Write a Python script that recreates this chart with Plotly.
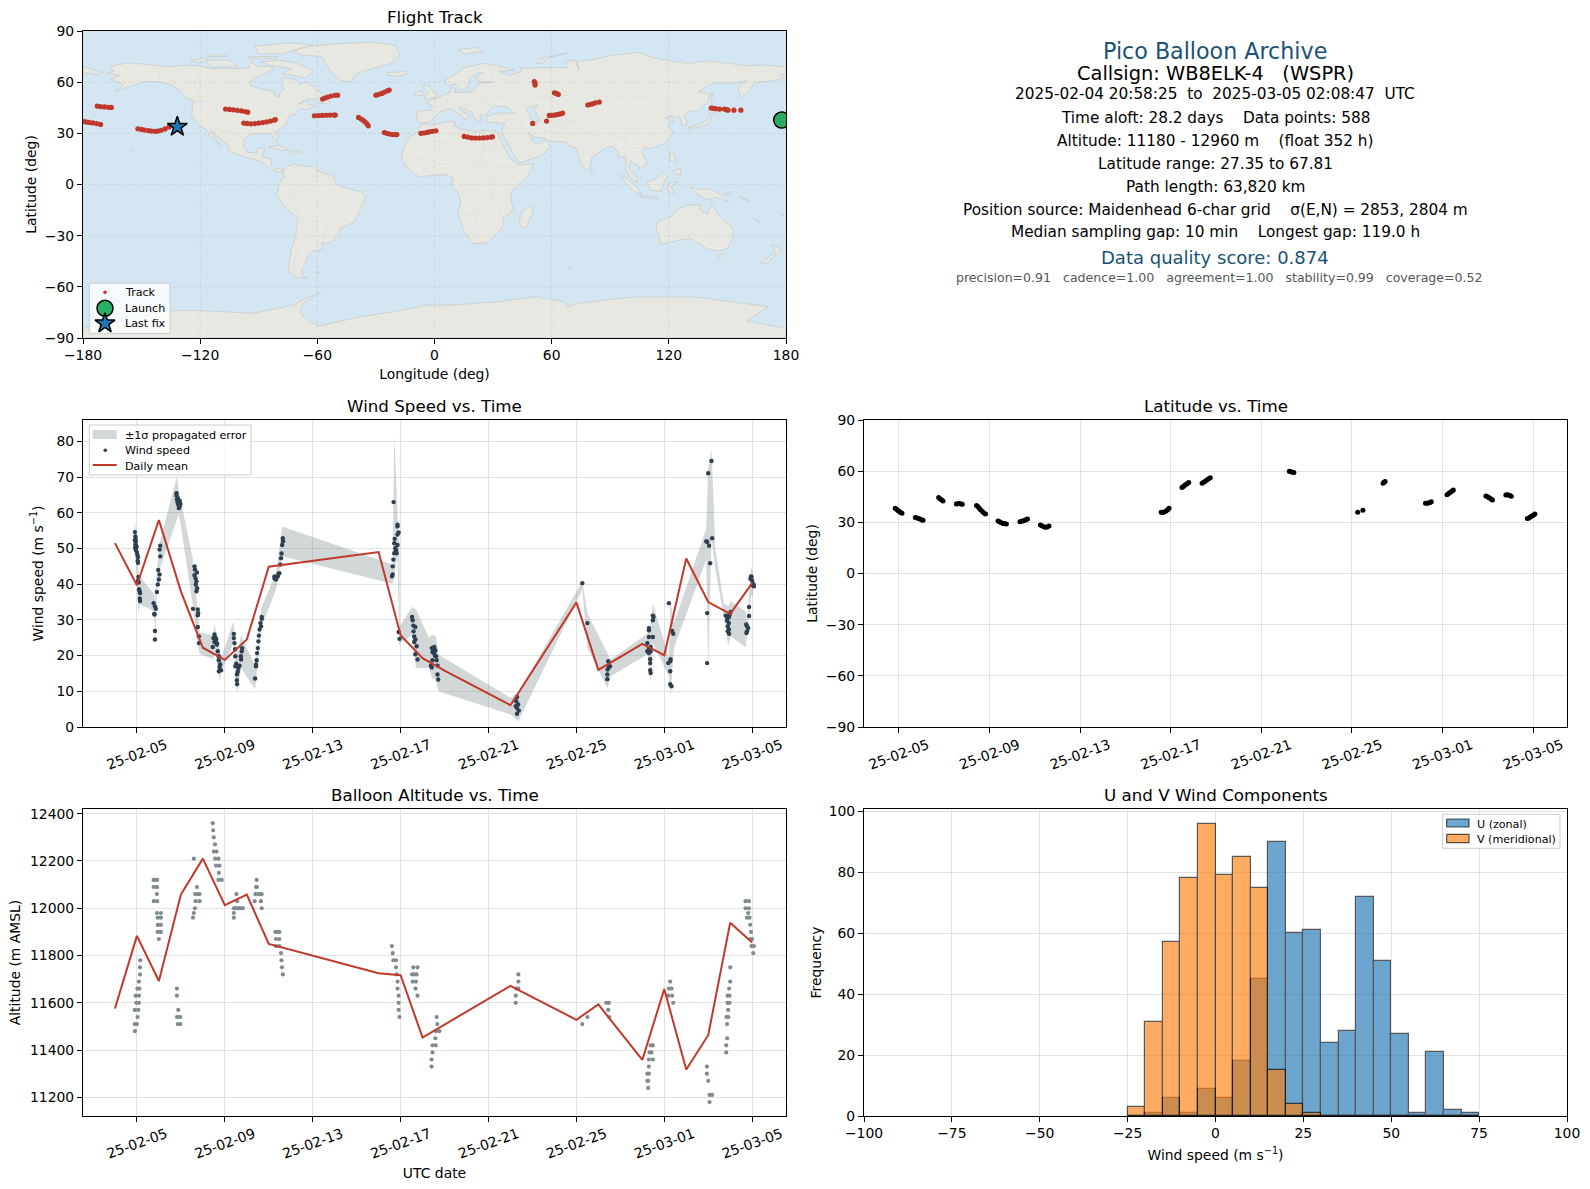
"""
Pico balloon flight summary: track map, wind, latitude, altitude, U/V histogram
"""
import pandas as pd
import plotly.graph_objects as go

WIDTH, HEIGHT = 1590, 1189
FONT = "DejaVu Sans"
RED = "#c0392b"
NAVY = "#2c3e50"
GREY = "#7f8c8d"
TITLE_BLUE = "#1a5276"
LAND = "#e8e8e3"
LAND_EDGE = "#c4c8c8"
BORDER = "#dcdcd8"
SEA = "#d4e6f1"
GRID = "#e2e2e2"

# --- track (lon, lat) ---
track_lon = [-180, -178.5, -177, -175, -173, -171, -172.7, -171, -169, -167, -165.5,
             -151.9, -150, -148.5, -146.5, -145, -143, -141.6, -140, -138, -136,
             -107, -105, -103, -101, -99, -97, -95.6,
             -97.7, -96, -94, -92, -90, -88, -86, -84, -82, -81.5,
             -57.3, -56, -54.7, -53, -51, -49.6,
             -61.5, -59.5, -57.5, -55.5, -53.5, -51.5, -50.8,
             -38.9, -37.5, -36.5, -35.5, -34.5, -33.9,
             -30, -28.5, -27, -25.5, -24, -23.2,
             -25.7, -24.5, -23, -21.5, -20, -19.3,
             -7, -5.5, -4, -2.7, -1, 0.7,
             15.2, 17, 19, 21, 23, 25, 27, 29, 29.7,
             51.1, 51.5, 51.5, 61.4, 62.4, 63.4,
             50.3, 57.4,
             58.8, 60, 61.4, 62.7, 63.9, 65, 65.6,
             78.5, 79.8, 81, 82.4, 84.4,
             141.7, 143, 144.3, 146, 148.5, 149.5, 150.3, 153.3, 156.9]
track_lat = [37, 36.7, 36.4, 36.1, 35.7, 35.2, 46, 45.7, 45.5, 45.3, 45.2,
             32.7, 32.3, 31.9, 31.6, 31.3, 31.2, 31.3, 31.8, 32.6, 33.7,
             44.2, 44, 43.8, 43.5, 43.2, 42.8, 42.4,
             36, 35.8, 35.6, 35.7, 36, 36.3, 36.7, 37.2, 37.8, 38.1,
             50.1, 50.7, 51.3, 51.9, 52.3, 52.4,
             40.3, 40.4, 40.5, 40.6, 40.7, 40.7, 40.7,
             39.3, 38.4, 37.6, 36.6, 35.4, 34.4,
             52.4, 52.9, 53.4, 54.2, 55, 55.4,
             30.5, 30, 29.6, 29.3, 29.3, 29.3,
             30, 30.2, 30.5, 30.9, 31.2, 31.5,
             28.2, 27.8, 27.3, 27.2, 27.2, 27.3, 27.5, 27.8, 28,
             60.4, 59.5, 58.3, 53.8, 53.4, 52.8,
             35.8, 37.2,
             40.5, 40.6, 40.7, 41, 41.3, 41.6, 41.9,
             46.6, 47, 47.3, 47.9, 48.3,
             44.8, 44.6, 44.4, 44.2, 44.2, 43.9, 43.6, 43.6, 43.6]
launch_lon, launch_lat = [177.8], [37.8]
last_lon, last_lat = [-131.7], [33.9]
map_lon_ticks = [-180, -120, -60, 0, 60, 120, 180]
map_lat_ticks = [-90, -60, -30, 0, 30, 60, 90]

# --- base map outlines (lon, lat) ---
north_america = [(-168, 65.5), (-164, 66.5), (-166, 68.5), (-162, 70.3), (-156, 71.3), (-150, 70.5), (-141, 69.7),
                 (-135, 69), (-128, 70), (-120, 69.5), (-115, 68), (-108, 68), (-100, 68), (-95, 68.5), (-94, 72),
                 (-90, 69), (-85, 69.5), (-82, 68), (-87, 65), (-93, 62), (-94, 61), (-94.5, 58.8), (-92, 57),
                 (-85, 55.3), (-82, 55), (-82, 52.5), (-79.5, 51.3), (-79, 54.5), (-77, 56), (-78, 58.5), (-78, 62.5),
                 (-73, 62), (-70, 61), (-69, 58.8), (-65, 60), (-62, 57.5), (-60, 55), (-56, 52.5), (-60, 50), (-66, 50),
                 (-70, 47), (-65, 49), (-65, 47), (-61, 46), (-65, 44), (-68, 44.5), (-70, 43.5), (-71, 41.5), (-74, 40.5),
                 (-75.5, 38), (-76, 35), (-79, 33), (-81, 31), (-80.2, 26), (-81, 25), (-82.7, 28), (-84, 30), (-89, 30),
                 (-94, 29.5), (-97.3, 27), (-97.8, 22.5), (-95.5, 18.8), (-91, 18.6), (-90.5, 21), (-87, 21.5), (-88, 16),
                 (-83.5, 15), (-83.7, 11), (-81.5, 9), (-79, 9.5), (-77.3, 8.5), (-78, 7.5), (-80.5, 7.3), (-83, 8.3),
                 (-86, 11), (-88, 13), (-92, 14.5), (-96, 15.8), (-102, 18), (-105.5, 20), (-105.5, 23), (-109, 26),
                 (-112.5, 30), (-114.8, 31.7), (-112, 27), (-109.8, 23), (-112, 25), (-115, 28.5), (-117, 32.5),
                 (-120.5, 34.5), (-122.5, 37.5), (-124.3, 40.5), (-124, 46), (-123, 49), (-127, 51), (-130, 54.5),
                 (-134, 58), (-140, 60), (-148, 60.5), (-152, 59), (-158, 56.5), (-164, 54.5), (-159, 58.5), (-162, 60),
                 (-166, 62), (-161, 64), (-168, 65.5)]
greenland = [(-73, 78), (-65, 81), (-50, 82.5), (-32, 83.5), (-20, 81.5), (-18, 76), (-22, 71), (-32, 68), (-40, 65),
             (-43, 60), (-48, 61), (-53, 66), (-55, 70), (-58, 75), (-68, 76), (-73, 78)]
baffin = [(-80, 73), (-72, 71.5), (-68, 70), (-62, 66.5), (-66, 62.5), (-72, 64), (-78, 65), (-73, 68), (-85, 70), (-89, 72), (-80, 73)]
victoria_isl = [(-117, 73), (-105, 73), (-101, 69), (-115, 69), (-117, 73)]
banks_isl = [(-125, 72), (-118, 74.5), (-116, 73), (-120, 71.5), (-125, 72)]
ellesmere = [(-90, 76.5), (-78, 76.5), (-62, 82), (-75, 83), (-92, 81), (-90, 76.5)]
devon_isl = [(-96, 75), (-80, 75), (-82, 74), (-94, 74), (-96, 75)]
melville_isl = [(-116, 76), (-106, 76), (-106, 75), (-116, 75), (-116, 76)]
newfoundland = [(-59, 47.7), (-56, 51.5), (-53, 47), (-59, 47.7)]
cuba = [(-85, 22), (-80, 23), (-74.5, 20.3), (-78, 20), (-85, 22)]
hispaniola = [(-74, 19.8), (-69, 19.5), (-68.5, 18.5), (-74, 18.2), (-74, 19.8)]
hawaii = [(-156, 20), (-155, 19.5), (-155.5, 19), (-156, 20)]
falkland = [(-61, -51.5), (-58, -51.3), (-59, -52.3), (-61, -51.5)]
chukotka_west = [(-180, 69), (-175, 67.5), (-170, 66), (-173, 64.5), (-178, 65.5), (-180, 65), (-180, 69)]
south_america = [(-77.5, 8), (-75, 11), (-72, 12), (-68, 11), (-62, 10.5), (-60, 8), (-52, 5), (-50, 0), (-44, -2.5),
                 (-38, -4), (-35, -7), (-37, -12), (-39, -17), (-41, -22), (-48, -25.5), (-48.5, -28), (-53, -34),
                 (-58, -34.5), (-57, -38), (-62, -39), (-65, -42), (-66, -46), (-68, -50), (-68, -53), (-65, -55),
                 (-72, -54), (-75, -50), (-74, -43), (-73, -37), (-71, -30), (-70, -20), (-76, -14), (-81, -6),
                 (-80, -2.5), (-80, 1), (-77, 4), (-77.5, 8)]
africa = [(-6, 35.8), (-2, 35), (10, 37.2), (11, 33.5), (15, 32.3), (20, 31), (25, 31.7), (32, 31.2), (33, 28), (36, 21),
          (38.5, 15.5), (43.3, 11.5), (51, 12), (47, 4), (40, -3), (39, -8), (40.5, -15), (35, -20), (35.5, -24), (32.5, -28),
          (27, -34), (20, -34.8), (18, -32), (15, -27), (12, -17), (13.5, -10), (12, -5), (9, -1), (9.5, 4), (5, 6), (-4, 5),
          (-8, 4.5), (-13, 9), (-17, 14.5), (-16, 21), (-13, 27.5), (-9.5, 30), (-6, 35.8)]
eurasia = [(-9, 37), (-9, 43), (-2, 43.5), (-1, 46), (-4.5, 48.5), (2, 51), (8, 54), (8.5, 57), (11, 56), (10, 54), (14, 54),
           (20, 54.5), (21, 57), (24, 59.5), (30, 60), (23, 60), (21, 63), (25, 65.5), (22, 65.5), (17.5, 62), (18, 59.5),
           (16, 56), (13, 55.5), (11, 59), (7, 58), (5, 61), (10, 64), (15, 68.5), (25, 71), (31, 70), (41, 67), (33, 66.5),
           (38, 64), (44, 66), (44, 68), (54, 68.5), (68, 68.5), (67, 72), (72, 73), (74, 67), (73, 72), (80, 73), (90, 75.5),
           (105, 77.5), (113, 74), (130, 71), (140, 72.5), (160, 69.7), (170, 70), (180, 69), (180, 65), (177, 64.5),
           (179, 62.5), (172, 60.5), (164, 60), (162, 56), (157, 51), (155.5, 56), (160, 61), (155, 59.5), (143, 59.5),
           (135, 54.5), (141, 53), (140, 48), (135, 43.5), (130, 42.5), (127.5, 39.7), (129.5, 37), (129, 35), (126.5, 34.5),
           (126.5, 37.5), (125, 39.7), (121.5, 39), (122, 40.5), (118, 39), (122.5, 37), (119, 35), (122, 31), (121, 28),
           (117, 23.5), (110, 21), (108, 21.5), (106, 19), (109, 13), (105, 9), (105, 10.5), (100.5, 13.5), (99.5, 10),
           (103.5, 4), (104, 1.3), (101, 3), (98, 8), (98, 16), (94.5, 16), (94, 19), (91, 22.5), (87, 21), (80.5, 15.5),
           (80, 11), (77.5, 8), (74, 15), (72.8, 21), (69, 22.5), (67, 25), (62, 25), (57, 26), (56.5, 27), (51, 28), (48, 30),
           (50, 26.5), (51, 24.5), (54, 24), (56.2, 26), (59.5, 22.5), (55, 17), (45, 13), (43, 13), (39, 21), (35.5, 28),
           (34.5, 31), (36, 36), (30, 36.3), (27, 37), (26.5, 39.5), (29, 41), (35, 42), (41.5, 41.5), (38, 44.5), (37, 46),
           (33, 45.5), (31, 46.5), (28, 43), (26, 40.7), (23, 40.5), (24, 38), (22, 36.5), (19.5, 41), (19, 42.5), (13.5, 45.5),
           (12.3, 44.5), (16, 41.5), (18.5, 40), (16, 38), (12.5, 41.5), (8.5, 44.3), (3, 43), (0, 39.5), (-2, 36.7), (-5.5, 36),
           (-9, 37)]
britain = [(-5, 50), (1, 51.2), (1.5, 52.7), (-2, 56), (-3, 58.5), (-6, 57.5), (-3, 54), (-5, 52), (-5, 50)]
ireland = [(-10, 52), (-6, 52.2), (-6, 55), (-10, 54), (-10, 52)]
iceland = [(-24, 65.5), (-15, 66.3), (-14, 64.7), (-19, 63.4), (-24, 64), (-24, 65.5)]
svalbard = [(12, 79), (22, 80.5), (25, 78), (16, 76.5), (12, 79)]
novaya_zemlya = [(52, 71), (55, 74), (68, 77), (60, 75), (55, 71), (52, 71)]
madagascar = [(49.5, -12), (50.5, -16), (47, -25), (44, -25), (43.5, -21), (44.5, -16), (49.5, -12)]
sri_lanka = [(80, 9.5), (82, 7), (80.5, 6), (80, 9.5)]
honshu = [(131, 34), (136, 35.5), (140, 38), (141, 41), (142, 39), (140.5, 35.5), (136, 33.8), (132, 33), (131, 34)]
hokkaido = [(140, 42), (141.5, 45.5), (145, 43.5), (143, 42), (140, 42)]
kyushu = [(130, 33.5), (132, 33), (131, 31), (130, 31.5), (130, 33.5)]
sakhalin = [(142, 54), (143.5, 49), (142, 46), (142, 50), (142, 54)]
luzon = [(120.5, 18.5), (122, 18.5), (124, 13), (120.5, 14), (120.5, 18.5)]
mindanao = [(122, 8), (126, 9.5), (126, 6), (124, 6), (122, 8)]
borneo = [(109, 1.5), (113, 3), (117, 7), (119, 5), (117.5, 1), (116, -4), (110, -3), (109, 1.5)]
sumatra = [(95, 5.5), (98, 4), (104, -2), (106, -6), (102, -4), (98, 1), (95, 5.5)]
java = [(105, -6.5), (114, -7.5), (114, -8.5), (106, -7.5), (105, -6.5)]
sulawesi = [(120, 1), (125, 1.5), (121, -1), (123, -5), (120, -5.5), (119, -2), (120, 1)]
new_guinea = [(131, -1), (135, -3), (141, -2.5), (146, -5.5), (151, -10.5), (144, -7.5), (141, -9), (138, -8), (133, -4), (131, -1)]
new_britain = [(148, -5.5), (152, -4.2), (151, -6), (148, -5.5)]
solomons = [(156, -7), (160, -8.5), (162, -10.5), (158, -8.5), (156, -7)]
new_caledonia = [(164, -20), (167, -22), (166, -22.3), (164, -20)]
fiji = [(177.3, -17.5), (178.7, -17.7), (178, -18.3), (177.3, -17.5)]
australia = [(114, -22), (122, -18), (125, -14), (130, -12), (136, -12), (136, -15), (140, -17.5), (142, -11), (146, -19),
             (153, -26), (153, -31), (150, -37.5), (146, -39), (140, -38), (136, -35), (131, -31.5), (124, -33), (116, -35),
             (115, -31), (113.5, -26), (114, -22)]
tasmania = [(145, -41), (148, -41), (147.5, -43.5), (146, -43.5), (145, -41)]
nz_north = [(173, -35), (178, -38), (175, -41.5), (174, -39), (173, -35)]
nz_south = [(172.5, -41), (174, -42), (170, -46.5), (167, -46), (172.5, -41)]
kerguelen = [(68.7, -49), (70.5, -49.2), (69.5, -49.8), (68.7, -49)]
antarctica = [(-180, -84.4), (-160, -80), (-150, -77), (-135.7, -74), (-119.5, -74), (-105, -74.6), (-93, -75.5), (-84.5, -73.6),
              (-72.6, -70.7), (-64, -65.8), (-58, -63.4), (-62, -66), (-67, -69.5), (-69, -75), (-65, -80), (-59, -83), (-50, -80.5),
              (-37, -77.5), (-16, -73.6), (-3.4, -70.7), (9, -70.7), (33, -68.7), (52, -65.8), (66.5, -68.7), (68, -72), (72.5, -69.7),
              (101.5, -66), (134, -66), (171, -71.6), (160, -80), (180, -84.4), (180, -90), (-180, -90), (-180, -84.4)]
land_shapes = [north_america, greenland, baffin, victoria_isl, banks_isl, ellesmere, devon_isl, melville_isl, newfoundland,
               cuba, hispaniola, hawaii, falkland, chukotka_west, south_america, africa, eurasia, britain, ireland, iceland,
               svalbard, novaya_zemlya, madagascar, sri_lanka, honshu, hokkaido, kyushu, sakhalin, luzon, mindanao, borneo,
               sumatra, java, sulawesi, new_guinea, new_britain, solomons, new_caledonia, fiji, australia, tasmania, nz_north,
               nz_south, kerguelen, antarctica]
caspian = [(47, 45), (53, 46.5), (51, 44), (53, 40), (54, 37), (50, 37), (49, 40), (47.5, 43), (47, 45)]
borders = [[(-123, 49), (-95, 49), (-88, 48), (-83, 46), (-82.5, 42), (-76, 44), (-71, 45), (-67, 47)],
           [(-141, 69.7), (-141, 60)],
           [(-117, 32.5), (-106, 31.7), (-101, 29.5), (-97.3, 26)],
           [(-70, -18), (-69, -11), (-74, -7), (-70, -4), (-70, 1), (-67, 2), (-60, 5), (-52, 3)],
           [(-58, -20), (-62, -22), (-67, -22), (-70, -18)],
           [(-58, -20), (-54, -25), (-57, -30), (-53, -34)],
           [(-70, -20), (-71, -30), (-71, -40), (-72, -50)],
           [(-8, 27), (12, 23), (25, 20), (25, 31.7)],
           [(-16, 16), (-5, 15), (4, 12), (14, 13), (24, 12), (34, 10), (43, 11)],
           [(10, 37), (8, 30), (12, 23)],
           [(25, 20), (24, 10), (30, 3), (30, -8), (22, -11), (22, -18), (12, -17)],
           [(30, 3), (41, 4)],
           [(22, -18), (20, -28), (17, -29)],
           [(30, -8), (33, -14), (35, -20)],
           [(37, 21), (25, 22)],
           [(28, 70), (30, 62), (28, 56), (23, 52), (30, 45)],
           [(30, 52), (40, 50), (48, 46)],
           [(51, 51), (60, 51), (77, 54), (87, 49), (98, 52), (117, 50), (127, 50), (135, 48)],
           [(87, 49), (80, 42), (74, 38), (61, 36), (54, 37)],
           [(74, 38), (61, 30), (62, 25)],
           [(74, 34), (78, 30), (88, 27), (97, 28), (98, 24), (101, 21), (106, 22), (108, 21.5)],
           [(45, 39), (44, 33), (48, 30)],
           [(36, 33), (42, 37), (45, 39)],
           [(8, 54), (6, 50), (6, 44)],
           [(6, 44), (13.5, 46), (23, 48), (30, 45)]]

# --- wind speed, days since 2025-02-05 ---
wind_days = [-0.09, -0.07, -0.06, -0.09, -0.05, -0.07, -0.04, -0.08, -0.05, -0.02, 0.0, 0.02, 0.05, 0.03, 0.05,
             0.07, 0.05, 0.08, 0.10, 0.12, 0.14, 0.13, 0.14,
             0.76, 0.82, 0.86, 0.79, 0.80, 0.82, 0.82, 0.91, 0.95, 1.0, 1.03, 0.97, 1.06, 1.03, 1.06,
             1.80, 1.80, 1.82, 1.85, 1.88, 1.94, 1.91, 1.98, 1.95, 1.87, 1.92,
             2.62, 2.64, 2.73, 2.62, 2.67, 2.71, 2.68, 2.74, 2.71, 2.55, 2.77, 2.79, 2.77, 2.77, 2.82, 2.82,
             3.53, 3.48, 3.61, 3.53, 3.64, 3.45, 3.68, 3.73, 3.73, 3.79, 3.76, 3.83, 3.73, 3.58, 3.65,
             4.41, 4.41, 4.44, 4.47, 4.48, 4.52, 4.48, 4.67, 4.59, 4.55, 4.55, 4.56, 4.74, 4.73, 4.77, 4.79, 4.62,
             5.38, 5.42, 5.45, 5.42, 5.47, 5.5, 5.53, 5.55, 5.58, 5.65, 5.62, 5.68, 5.68,
             6.26, 6.33, 6.41, 6.48, 6.26, 6.53, 6.56, 6.58, 6.61, 6.65, 6.64, 6.36, 6.44,
             11.68, 11.64, 11.61, 11.64, 11.67, 11.71, 11.79, 11.76, 11.86, 11.71, 11.73, 11.86, 11.91, 11.86, 11.86, 11.79, 11.82,
             11.91, 11.95, 12.52, 12.55, 12.58, 12.67, 12.59, 12.62, 12.67, 12.62, 12.73, 12.67, 12.77,
             13.42, 13.53, 13.58, 13.45, 13.61, 13.45, 13.64, 13.68, 13.42, 13.68, 13.71, 13.38, 13.53, 13.5, 13.56,
             17.3, 17.26, 17.35, 17.24, 17.3, 17.38, 17.3,
             20.27, 20.5,
             21.45, 21.48, 21.42, 21.41, 21.41, 21.53,
             23.48, 23.51, 23.48, 23.3, 23.3, 23.48, 23.3, 23.23, 23.38, 23.3, 23.23, 23.38, 23.3, 23.36, 23.36, 23.36, 23.38,
             24.21, 24.36, 24.41, 24.29, 24.27, 24.18, 24.27, 24.27, 24.33,
             26.15, 26.0, 25.91, 25.95, 26.04, 26.18, 26.09, 25.95, 25.95,
             27.02, 26.79, 26.86, 26.94, 26.86, 26.94, 26.89, 26.94, 26.89, 26.95, 26.88, 26.97,
             27.73, 27.77, 27.82, 27.77, 27.74, 27.86, 27.86, 27.95, 27.92, 28.0, 28.03, 28.08, 27.97, 28.06]
wind_speed = [54.6, 53.4, 52.7, 52.3, 51.9, 51.2, 50.8, 50.2, 49.6, 50.5, 49.0, 48.3, 47.6, 46.5, 46.0,
              42.0, 41.0, 40.5, 38.6, 38.0, 37.5, 36.0, 35.3,
              34.7, 33.8, 33.1, 31.7, 31.5, 26.9, 24.5, 37.8, 39.9, 41.3, 42.7, 44.0, 47.8, 49.7, 50.8,
              65.5, 64.8, 63.7, 62.9, 62.3, 61.8, 61.3, 62.5, 63.3, 64.0, 62.0,
              45.0, 44.1, 43.3, 42.5, 41.7, 40.8, 39.9, 38.9, 38.0, 33.1, 32.9, 31.9, 31.3, 28.0, 25.4, 23.5,
              25.9, 24.9, 24.5, 23.8, 23.1, 22.4, 21.2, 19.8, 18.7, 17.5, 16.8, 15.9, 15.6, 25.0, 23.4,
              26.1, 24.9, 23.5, 21.8, 19.8, 17.7, 17.0, 17.2, 15.5, 14.7, 13.1, 12.0, 18.9, 19.8, 21.2, 22.1, 16.5,
              13.6, 17.0, 18.7, 17.5, 20.7, 22.1, 24.0, 25.6, 27.3, 28.2, 29.1, 30.3, 30.8,
              41.6, 41.3, 42.2, 43.1, 42.2, 45.5, 47.3, 48.6, 51.0, 52.0, 52.9, 41.9, 42.9,
              63.0, 42.7, 42.2, 45.0, 46.9, 48.7, 48.7, 50.1, 51.0, 51.5, 52.7, 53.9, 54.5, 56.2, 56.7, 49.5, 48.7,
              26.6, 24.7, 30.8, 29.9, 28.4, 28.0, 26.8, 25.4, 24.5, 23.8, 22.6, 20.4, 18.9,
              22.1, 22.4, 21.5, 21.0, 19.8, 18.7, 18.7, 17.2, 16.7, 14.7, 13.3, 17.2, 20.7, 22.0, 20.0,
              8.4, 7.2, 6.3, 5.8, 5.3, 4.6, 3.7,
              40.3, 29.1,
              18.4, 16.8, 16.1, 14.7, 13.4, 17.0,
              31.2, 30.8, 29.9, 27.7, 27.1, 25.2, 25.2, 23.5, 22.4, 22.1, 21.2, 21.2, 20.7, 19.0, 17.9, 15.9, 15.1,
              34.7, 26.9, 26.1, 19.0, 18.4, 17.9, 15.6, 12.0, 11.4,
              74.5, 71.1, 52.0, 51.9, 50.8, 52.9, 45.9, 31.9, 17.9,
              32.2, 31.2, 31.0, 30.8, 29.8, 29.1, 28.2, 27.3, 26.8, 26.1, 30.5, 31.4,
              28.7, 28.2, 27.7, 26.8, 26.3, 33.6, 31.1, 42.2, 41.5, 41.0, 39.7, 39.4, 42.0, 40.0]
wind_ticks = [0, 10, 20, 30, 40, 50, 60, 70, 80]

# +/- 1 sigma band envelope
band_days = [-0.11, -0.03, 0.06, 0.12, 0.80, 0.83, 0.91, 1.03, 1.82, 1.91, 2.55, 2.77, 2.85, 3.48, 3.53, 3.76, 3.83, 4.39,
             4.55, 4.74, 5.38, 5.5, 5.65, 6.33, 6.61, 11.64, 11.71, 11.86, 11.94, 11.97, 12.52, 12.7, 13.3, 13.42, 13.61,
             13.71, 17.02, 17.36, 20.27, 20.5, 21.41, 21.56, 23.23, 23.38, 23.48, 24.21, 24.29, 24.44, 25.91, 26.0, 26.15,
             26.33, 26.71, 26.91, 27.02, 27.7, 27.77, 27.95, 28.05]
band_low = [47.8, 46.4, 31.7, 34.3, 32.4, 22.6, 37.5, 44.1, 58.1, 59.9, 33.8, 23.1, 20.5, 18.9, 21.7, 12.8, 15.1, 23.5,
            9.5, 16.5, 10.6, 17.0, 27.7, 38.5, 47.8, 40.1, 43.1, 47.8, 22.1, 23.5, 25.6, 16.5, 16.5, 13.7, 13.3,
            10.0, 3.5, 1.6, 38.5, 22.1, 10.9, 14.2, 20.3, 12.5, 23.5, 14.2, 8.9, 22.1, 46.9, 15.6, 52.5,
            44.0, 31.0, 22.8, 25.4, 22.3, 25.9, 36.6, 37.0]
band_high = [58.1, 54.3, 44.1, 42.2, 37.1, 35.2, 43.1, 51.5, 70.2, 66.0, 46.9, 31.0, 26.5, 25.6, 28.9, 21.7, 19.3, 29.5,
             20.3, 25.7, 17.0, 23.5, 33.3, 43.1, 56.2, 45.5, 82.2, 59.0, 48.3, 28.2, 33.6, 32.9, 24.9, 25.9, 25.4,
             20.3, 8.1, 9.5, 40.8, 31.9, 21.0, 18.9, 26.1, 28.2, 34.7, 19.3, 35.2, 29.1, 55.5, 73.0, 77.7,
             49.7, 34.7, 33.8, 35.2, 32.4, 29.1, 45.0, 43.0]

# daily means, same day offsets for both panels
mean_days = [-1, 0, 1, 2, 3, 4, 5, 6, 11, 12, 13, 14, 17, 20, 21, 23, 24, 25, 26, 27, 28]
wind_mean = [51.5, 39.7, 58.0, 38.0, 22.2, 18.8, 24.5, 44.9, 49.0, 25.7, 19.3, 15.8, 6.1, 34.9, 16.0, 23.3, 20.1, 47.2, 35.0, 31.7, 40.3]
alt_mean = [11576, 11883, 11692, 12058, 12210, 12013, 12058, 11849, 11725, 11717, 11453, 11507, 11672, 11528, 11593, 11358, 11658, 11318, 11463, 11939, 11855]

# --- latitude ---
lat_days = [-0.16, -0.10, -0.04, 0.02, 0.08, 0.14, 0.73, 0.80, 0.88, 0.95, 1.02, 1.07, 1.76, 1.82, 1.88, 1.95,
            2.54, 2.60, 2.68, 2.74, 2.80, 3.43, 3.50, 3.56, 3.62, 3.70, 3.76, 3.83, 4.38, 4.45, 4.52, 4.60, 4.68, 4.75,
            5.35, 5.42, 5.50, 5.57, 5.63, 5.68, 6.25, 6.32, 6.40, 6.47, 6.55, 6.63,
            11.58, 11.65, 11.72, 11.80, 11.87, 11.93, 12.50, 12.56, 12.62, 12.68, 12.74, 12.80,
            13.39, 13.46, 13.53, 13.60, 13.68, 13.75, 17.24, 17.31, 17.38, 17.44, 20.26, 20.49,
            21.38, 21.42, 21.47, 23.25, 23.32, 23.38, 23.45, 23.51, 24.20, 24.26, 24.32, 24.38, 24.44, 24.48,
            25.92, 25.98, 26.04, 26.10, 26.16, 26.21, 26.80, 26.86, 26.92, 26.98, 27.04,
            27.75, 27.82, 27.88, 27.95, 28.02, 28.08]
lat_vals = [38.2, 37.6, 37.0, 36.3, 35.8, 35.3, 32.9, 32.6, 32.2, 31.8, 31.4, 31.2, 44.5, 43.9, 43.2, 42.5,
            40.8, 40.9, 41.0, 40.8, 40.6, 39.8, 39.1, 38.1, 37.2, 36.2, 35.5, 34.9, 30.8, 30.3, 29.8, 29.3, 29.1, 29.0,
            30.4, 30.6, 30.9, 31.2, 31.7, 32.0, 28.4, 28.0, 27.4, 27.1, 27.3, 27.8,
            35.9, 35.8, 36.0, 36.6, 37.4, 38.2, 50.4, 51.0, 51.7, 52.2, 52.8, 53.3,
            52.9, 53.5, 54.1, 54.8, 55.5, 56.1, 60.0, 59.7, 59.4, 59.2, 35.9, 37.1,
            52.9, 53.5, 54.0, 41.2, 41.2, 41.3, 41.6, 42.0, 46.1, 46.7, 47.3, 47.9, 48.5, 49.0,
            45.5, 45.1, 44.6, 44.1, 43.6, 43.1, 46.0, 46.1, 46.0, 45.7, 45.3,
            32.2, 32.6, 33.1, 33.7, 34.3, 34.9]
lat_ticks = [-90, -60, -30, 0, 30, 60, 90]

# --- altitude ---
alt_days = [0.15, 0.14, 0.14, 0.09, 0.02, 0.11, -0.06, 0.09, -0.03, 0.09, -0.1, 0.06, 0.03, -0.1, 0.0, -0.09,
            0.76, 0.92, 0.76, 0.92, 0.91, 0.77, 0.92, 0.91, 1.09, 0.95, 1.09, 0.95, 1.09, 0.94, 1.09, 1.0, 0.80, 0.88, 0.97, 1.05,
            1.82, 1.82, 1.88, 1.82, 1.97, 1.86, 1.98, 1.92,
            2.59, 2.73, 2.65, 2.85, 2.67, 2.85, 2.64, 2.59, 2.55, 2.78,
            3.45, 3.47, 3.5, 3.55, 3.5, 3.62, 3.56, 3.71, 3.6, 3.76, 3.73, 3.71, 3.86,
            4.53, 4.56, 4.41, 4.52, 4.67, 4.82, 4.41, 4.41, 4.47, 4.6, 4.75,
            5.45, 5.42, 5.39, 5.53, 5.68, 5.36, 5.64, 5.68, 5.46, 5.6,
            6.3, 6.48, 6.33, 6.48, 6.33, 6.48, 6.56, 6.58, 6.6, 6.64, 6.4,
            11.6, 11.64, 11.67, 11.79, 11.79, 11.82, 11.86, 11.86, 11.91, 11.91, 11.91, 11.95,
            12.58, 12.77, 12.52, 12.73, 12.55, 12.7, 12.68, 12.77, 12.62,
            13.64, 13.67, 13.61, 13.76, 13.58, 13.45, 13.6, 13.45, 13.41, 13.41,
            17.36, 17.36, 17.27, 17.36, 17.24, 17.24,
            20.27, 20.5, 21.36, 21.48, 21.45, 21.5,
            23.38, 23.48, 23.33, 23.42, 23.3, 23.48, 23.3, 23.23, 23.3, 23.23, 23.27, 23.27,
            24.27, 24.21, 24.33, 24.18, 24.36, 24.41,
            25.94, 25.94, 26.0, 26.06, 26.18, 26.06,
            26.82, 26.82, 26.86, 26.86, 26.83, 26.92, 26.91, 26.88, 26.97, 26.88, 26.97, 26.95, 27.0, 27.0,
            27.7, 27.85, 27.7, 27.85, 27.82, 27.76, 27.88, 27.91, 27.95, 27.92, 28.0, 27.97, 28.08, 28.05]
alt_vals = [11780, 11750, 11720, 11690, 11660, 11660, 11630, 11630, 11600, 11600, 11570, 11570, 11540, 11510, 11510, 11480,
            12120, 12120, 12090, 12090, 12060, 12030, 12030, 11980, 11980, 11960, 11960, 11930, 11930, 11900, 11900, 11870,
            12120, 12090, 11930, 11900,
            11660, 11630, 11570, 11540, 11540, 11510, 11510, 11540,
            12210, 12090, 12060, 12060, 12030, 12030, 12000, 11980, 11960, 12060,
            12360, 12330, 12300, 12270, 12240, 12240, 12210, 12210, 12180, 12180, 12150, 12120, 12120,
            12060, 12030, 12000, 12000, 12000, 12000, 11980, 11960, 12000, 12000, 12000,
            12120, 12090, 12060, 12060, 12060, 12030, 12030, 12000, 12090, 12060,
            11900, 11900, 11870, 11870, 11840, 11840, 11810, 11780, 11750, 11720, 11900,
            11840, 11810, 11780, 11780, 11750, 11720, 11690, 11660, 11630, 11600, 11570, 11540,
            11750, 11750, 11720, 11720, 11690, 11690, 11660, 11630, 11720,
            11540, 11510, 11480, 11480, 11450, 11420, 11420, 11390, 11360, 11330,
            11720, 11690, 11660, 11660, 11630, 11600,
            11510, 11540, 11600, 11600, 11570, 11540,
            11420, 11420, 11390, 11390, 11360, 11360, 11330, 11300, 11300, 11270, 11270, 11240,
            11690, 11660, 11660, 11630, 11630, 11600,
            11330, 11300, 11270, 11210, 11210, 11180,
            11390, 11420, 11450, 11510, 11540, 11540, 11570, 11600, 11600, 11630, 11630, 11660, 11690, 11750,
            12030, 12030, 12000, 12000, 11980, 11960, 11960, 11930, 11900, 11870, 11870, 11840, 11840, 11810]
alt_ticks = [11200, 11400, 11600, 11800, 12000, 12200, 12400]

# --- U / V histogram, 5 m/s bins ---
bin_centres = [-22.5, -17.5, -12.5, -7.5, -2.5, 2.5, 7.5, 12.5, 17.5, 22.5, 27.5, 32.5, 37.5, 42.5, 47.5, 52.5, 57.5, 62.5, 67.5, 72.5]
u_counts = [0, 1, 6, 1, 9, 6, 18, 45, 90, 60, 61, 24, 28, 72, 51, 27, 1, 21, 2, 1]
v_counts = [3, 31, 57, 78, 96, 79, 85, 75, 15, 4, 1, 0, 0, 0, 0, 0, 0, 0, 0, 0]
speed_ticks = [-100, -75, -50, -25, 0, 25, 50, 75, 100]
freq_ticks = [0, 20, 40, 60, 80, 100]

# --- date axis ---
date_ticks = ["2025-02-05", "2025-02-09", "2025-02-13", "2025-02-17", "2025-02-21", "2025-02-25", "2025-03-01", "2025-03-05"]

# --- info panel text ---
info_text = ["Pico Balloon Archive",
             "Callsign: WB8ELK-4   (WSPR)",
             "2025-02-04 20:58:25  to  2025-03-05 02:08:47  UTC",
             "Time aloft: 28.2 days    Data points: 588",
             "Altitude: 11180 - 12960 m    (float 352 h)",
             "Latitude range: 27.35 to 67.81",
             "Path length: 63,820 km",
             "Position source: Maidenhead 6-char grid    σ(E,N) = 2853, 2804 m",
             "Median sampling gap: 10 min    Longest gap: 119.0 h",
             "Data quality score: 0.874",
             "precision=0.91   cadence=1.00   agreement=1.00   stability=0.99   coverage=0.52"]
info_size = [22.2, 19.4, 15.3, 15.3, 15.3, 15.3, 15.3, 15.3, 15.3, 18, 12.55]
info_color = [TITLE_BLUE, "black", "black", "black", "black", "black", "black", "black", "black", TITLE_BLUE, "#555555"]
info_y = [50.7, 73, 94.3, 117.6, 141, 163.5, 186.6, 209.5, 232.5, 257, 277.5]
info_x = [1215, 1215, 1215, 1215, 1215, 1215, 1215, 1215, 1215, 1215, 1219]


def to_dates(days):
    return pd.Timestamp("2025-02-05") + pd.to_timedelta(days, unit="D")


def outline_xy(shapes):
    xs, ys = [], []
    for shape in shapes:
        xs += [p[0] for p in shape] + [None]
        ys += [p[1] for p in shape] + [None]
    return xs, ys


def x_dom(left, right):
    return [left / WIDTH, right / WIDTH]


def y_dom(top, bottom):
    return [1 - bottom / HEIGHT, 1 - top / HEIGHT]


def axis_style(**kw):
    style = dict(
        showline=True, mirror=True, linecolor="black", linewidth=1.1,
        ticks="outside", ticklen=5, tickwidth=1.1, tickcolor="black",
        tickfont=dict(family=FONT, size=13.9, color="black"),
        showgrid=True, gridcolor=GRID, gridwidth=1.1, zeroline=False,
        title_font=dict(family=FONT, size=13.9, color="black"),
    )
    style.update(kw)
    return style


def date_axis(day_range, domain, anchor, title=None):
    return axis_style(
        type="date", domain=domain, anchor=anchor,
        range=[str(d) for d in to_dates(day_range)],
        tickmode="array", tickvals=date_ticks, tickformat="%y-%m-%d",
        tickangle=-20, ticklabelshift=29, ticklabelstandoff=-1,
        title=dict(text=title, standoff=7) if title else None,
    )


def key_box(x0, y0, x1, y1, fill, line_color, line_width=1):
    # legend frame or swatch, drawn on the full-page pixel axes
    fig.add_trace(go.Scatter(x=[x0, x1, x1, x0, x0], y=[y0, y0, y1, y1, y0], mode="lines", fill="toself",
                             fillcolor=fill, line=dict(color=line_color, width=line_width),
                             xaxis="x6", yaxis="y6", hoverinfo="skip"))


def key_marker(x, y, color, size, symbol="circle", edge=0):
    fig.add_trace(go.Scatter(x=[x], y=[y], mode="markers", xaxis="x6", yaxis="y6", hoverinfo="skip",
                             marker=dict(color=color, size=size, symbol=symbol, line=dict(color="black", width=edge))))


def key_text(x, y, text):
    return dict(text=text, xref="x6", yref="y6", x=x, y=y, xanchor="left", yanchor="middle", showarrow=False,
                font=dict(family=FONT, size=11.1, color="black"))


fig = go.Figure()

# flight track map
land_x, land_y = outline_xy(land_shapes)
fig.add_trace(go.Scatter(x=land_x, y=land_y, mode="lines", fill="toself", fillcolor=LAND,
                         line=dict(color=LAND_EDGE, width=0.7), hoverinfo="skip"))
border_x, border_y = outline_xy(borders)
fig.add_trace(go.Scatter(x=border_x, y=border_y, mode="lines",
                         line=dict(color=BORDER, width=0.6), hoverinfo="skip"))
lake_x, lake_y = outline_xy([caspian])
fig.add_trace(go.Scatter(x=lake_x, y=lake_y, mode="lines", fill="toself", fillcolor=SEA,
                         line=dict(color=LAND_EDGE, width=0.7), hoverinfo="skip"))
# graticule sits above the land, under the track
grid_x, grid_y = [], []
for lon in map_lon_ticks[1:-1]:
    grid_x += [lon, lon, None]
    grid_y += [-90, 90, None]
for lat in map_lat_ticks[1:-1]:
    grid_x += [-180, 180, None]
    grid_y += [lat, lat, None]
fig.add_trace(go.Scatter(x=grid_x, y=grid_y, mode="lines", hoverinfo="skip",
                         line=dict(color="rgba(128,128,128,0.2)", width=0.7, dash="3px,2px")))
fig.add_trace(go.Scatter(x=track_lon, y=track_lat, mode="markers", name="Track",
                         marker=dict(color=RED, size=5.2)))
fig.add_trace(go.Scatter(x=launch_lon, y=launch_lat, mode="markers", name="Launch",
                         marker=dict(color="#27ae60", size=16, line=dict(color="black", width=1.5))))
fig.add_trace(go.Scatter(x=last_lon, y=last_lat, mode="markers", name="Last fix",
                         marker=dict(color="#1f77b4", size=15, symbol="star", line=dict(color="black", width=1.5))))

# wind speed
band_t = to_dates(band_days)
fig.add_trace(go.Scatter(x=list(band_t) + list(band_t[::-1]), y=band_high + band_low[::-1], mode="lines",
                         fill="toself", fillcolor="rgba(127,140,141,0.35)", line=dict(width=0, color="rgba(0,0,0,0)"),
                         name="±1σ propagated error", xaxis="x2", yaxis="y2"))
fig.add_trace(go.Scatter(x=to_dates(wind_days), y=wind_speed, mode="markers", name="Wind speed",
                         marker=dict(color=NAVY, size=4.4), xaxis="x2", yaxis="y2"))
fig.add_trace(go.Scatter(x=to_dates(mean_days), y=wind_mean, mode="lines", name="Daily mean",
                         line=dict(color=RED, width=2), xaxis="x2", yaxis="y2"))

# latitude
fig.add_trace(go.Scatter(x=to_dates(lat_days), y=lat_vals, mode="markers",
                         marker=dict(color="black", size=5), xaxis="x3", yaxis="y3"))

# altitude
fig.add_trace(go.Scatter(x=to_dates(alt_days), y=alt_vals, mode="markers",
                         marker=dict(color=GREY, size=4.2), xaxis="x4", yaxis="y4"))
fig.add_trace(go.Scatter(x=to_dates(mean_days), y=alt_mean, mode="lines",
                         line=dict(color=RED, width=2), xaxis="x4", yaxis="y4"))

# histogram
fig.add_trace(go.Bar(x=bin_centres, y=u_counts, width=5, name="U (zonal)", opacity=0.65,
                     marker=dict(color="#1f77b4", line=dict(color="black", width=1.2)),
                     xaxis="x5", yaxis="y5"))
fig.add_trace(go.Bar(x=bin_centres, y=v_counts, width=5, name="V (meridional)", opacity=0.65,
                     marker=dict(color="#ff7f0e", line=dict(color="black", width=1.2)),
                     xaxis="x5", yaxis="y5"))

# legends, tighter than plotly's own so drawn on a page-sized hidden axis pair
FRAME_FILL, FRAME_LINE = "rgba(255,255,255,0.8)", "#cccccc"
key_box(89.3, 283.3, 170, 333.3, FRAME_FILL, FRAME_LINE)
key_marker(105, 292.3, RED, 3.6)
key_marker(105, 308.3, "#27ae60", 16, edge=1.5)
key_marker(105, 323.3, "#1f77b4", 15, symbol="star", edge=1.5)
key_box(89.3, 425, 251, 475, FRAME_FILL, FRAME_LINE)
key_box(92.7, 430, 116.7, 439, "rgba(127,140,141,0.35)", "rgba(0,0,0,0)", 0)
key_marker(105.3, 450.3, NAVY, 3.6)
fig.add_trace(go.Scatter(x=[92.7, 116.7], y=[465, 465], mode="lines", line=dict(color=RED, width=2),
                         xaxis="x6", yaxis="y6", hoverinfo="skip"))
key_box(1442.7, 814.3, 1560, 848.3, FRAME_FILL, FRAME_LINE)
key_box(1446.7, 819, 1469, 827, "rgba(31,119,180,0.65)", "rgba(0,0,0,0.65)", 1.2)
key_box(1446.7, 834.3, 1469, 842.7, "rgba(255,127,14,0.65)", "rgba(0,0,0,0.65)", 1.2)

annotations = []
for axis_ref, text in [("", "Flight Track"), ("2", "Wind Speed vs. Time"), ("3", "Latitude vs. Time"),
                       ("4", "Balloon Altitude vs. Time"), ("5", "U and V Wind Components")]:
    annotations.append(dict(text=text, xref=f"x{axis_ref} domain", yref=f"y{axis_ref} domain", x=0.5, y=1,
                            xanchor="center", yanchor="bottom", yshift=2, showarrow=False,
                            font=dict(family=FONT, size=16.7, color="black")))
for text, size, color, x_px, y_px in zip(info_text, info_size, info_color, info_x, info_y):
    annotations.append(dict(text=text, xref="paper", yref="paper", x=x_px / WIDTH, y=1 - y_px / HEIGHT,
                            xanchor="center", yanchor="middle", showarrow=False,
                            font=dict(family=FONT, size=size, color=color)))
annotations += [key_text(122.5, 292.3, "Track"), key_text(122.5, 308.3, "Launch"), key_text(122.5, 323.3, "Last fix"),
                key_text(122.5, 435.3, "±1σ propagated error"), key_text(122.5, 450.3, "Wind speed"),
                key_text(122.5, 466, "Daily mean"),
                key_text(1475, 824, "U (zonal)"), key_text(1475, 839, "V (meridional)")]

fig.update_layout(
    width=WIDTH, height=HEIGHT, autosize=False, template="none", showlegend=False,
    margin=dict(l=0, r=0, t=0, b=0, pad=0),
    paper_bgcolor="white", plot_bgcolor="rgba(0,0,0,0)", barmode="overlay", bargap=0,
    font=dict(family=FONT, color="black"),
    annotations=annotations,
    shapes=[dict(type="rect", xref="x domain", yref="y domain", x0=0, x1=1, y0=0, y1=1,
                 fillcolor=SEA, line_width=0, layer="below")],
    xaxis=axis_style(domain=x_dom(83, 786), anchor="y", range=[-180, 180], tickvals=map_lon_ticks, showgrid=False,
                     ticklabelstandoff=-1, title=dict(text="Longitude (deg)", standoff=7)),
    yaxis=axis_style(domain=y_dom(31, 338), anchor="x", range=[-90, 90], tickvals=map_lat_ticks, showgrid=False,
                     title=dict(text="Latitude (deg)", standoff=4)),
    xaxis2=date_axis([-2.4545, 29.54], x_dom(83, 786), "y2"),
    yaxis2=axis_style(domain=y_dom(420, 727), anchor="x2", range=[0, 86], tickvals=wind_ticks,
                      title=dict(text="Wind speed (m s<sup>−1</sup>)", standoff=9)),
    xaxis3=date_axis([-1.537, 29.5], x_dom(864, 1567), "y3"),
    yaxis3=axis_style(domain=y_dom(420, 727), anchor="x3", range=[-90, 90], tickvals=lat_ticks,
                      title=dict(text="Latitude (deg)", standoff=4)),
    xaxis4=date_axis([-2.4545, 29.54], x_dom(83, 786), "y4", title="UTC date"),
    yaxis4=axis_style(domain=y_dom(809, 1116), anchor="x4", range=[11121, 12420], tickvals=alt_ticks, tickformat="d",
                      title=dict(text="Altitude (m AMSL)", standoff=6)),
    xaxis5=axis_style(domain=x_dom(864, 1567), anchor="y5", range=[-100, 100], tickvals=speed_ticks,
                      ticklabelstandoff=-1, title=dict(text="Wind speed (m s<sup>−1</sup>)", standoff=10)),
    yaxis5=axis_style(domain=y_dom(809, 1116), anchor="x5", range=[0, 100.8], tickvals=freq_ticks,
                      title=dict(text="Frequency", standoff=3)),
    xaxis6=dict(domain=[0, 1], range=[0, WIDTH], visible=False, anchor="y6", fixedrange=True),
    yaxis6=dict(domain=[0, 1], range=[HEIGHT, 0], visible=False, anchor="x6", fixedrange=True),
)

fig.write_html("out.html", config={"displayModeBar": False},
               post_script="document.body.style.margin='0';")
